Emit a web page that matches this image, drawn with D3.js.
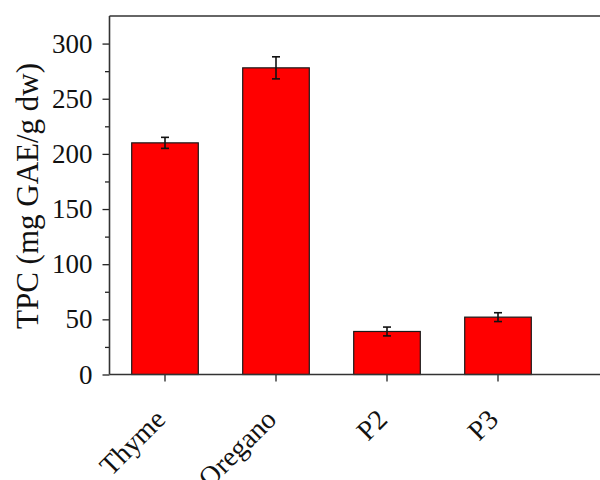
<!DOCTYPE html>
<html>
<head>
<meta charset="utf-8">
<script src="https://cdn.jsdelivr.net/npm/d3@7"></script>
<style>
  html, body { margin: 0; padding: 0; background: #ffffff; }
  svg { display: block; }
  text { font-family: "Liberation Serif", "Times New Roman", serif; fill: #111; }
</style>
</head>
<body>
<svg id="chart" width="600" height="480"></svg>
<script>
const categories = ["Thyme", "Oregano", "P2", "P3"];
const values = [210, 278, 39, 52];
const errors = [5, 10, 4, 4];
const yTicks = [0, 50, 100, 150, 200, 250, 300];
const yMinorTicks = [25, 75, 125, 175, 225, 275];
const yTitle = "TPC (mg GAE/g dw)";

const svg = d3.select("#chart");
const left = 109.5, bottom = 374.5, right = 600;

const y = d3.scaleLinear().domain([0, 325]).range([bottom, 16]);
const x = d3.scaleBand().domain(categories).range([left, left + 444])
  .paddingInner(0.4).paddingOuter(0.2);

// bars
svg.append("g").selectAll("rect").data(categories).join("rect")
  .attr("x", d => x(d))
  .attr("y", (d, i) => y(values[i]))
  .attr("width", x.bandwidth())
  .attr("height", (d, i) => y(0) - y(values[i]))
  .attr("fill", "#ff0000")
  .attr("stroke", "#1a1a1a")
  .attr("stroke-width", 1.2);

// error bars
const eb = svg.append("g").attr("stroke", "#111").attr("stroke-width", 1.6);
categories.forEach((c, i) => {
  const cx = x(c) + x.bandwidth() / 2;
  eb.append("line").attr("x1", cx).attr("x2", cx)
    .attr("y1", y(values[i] + errors[i])).attr("y2", y(values[i] - errors[i]));
  eb.append("line").attr("x1", cx - 4).attr("x2", cx + 4)
    .attr("y1", y(values[i] + errors[i])).attr("y2", y(values[i] + errors[i]));
  eb.append("line").attr("x1", cx - 4).attr("x2", cx + 4)
    .attr("y1", y(values[i] - errors[i])).attr("y2", y(values[i] - errors[i]));
});

// y axis major
const yAxis = svg.append("g").attr("transform", `translate(${left},0)`)
  .call(d3.axisLeft(y).tickValues(yTicks).tickSize(7).tickPadding(10).tickSizeOuter(0));
yAxis.select(".domain").remove();
yAxis.selectAll(".tick line").attr("stroke", "#222").attr("stroke-width", 1.3);
yAxis.selectAll(".tick text").attr("font-size", 27).attr("fill", "#111")
  .style("font-family", '"Liberation Serif", "Times New Roman", serif');

// y axis minor
const yMinor = svg.append("g").attr("transform", `translate(${left},0)`)
  .call(d3.axisLeft(y).tickValues(yMinorTicks).tickSize(4.5).tickFormat(""));
yMinor.select(".domain").remove();
yMinor.selectAll(".tick line").attr("stroke", "#222").attr("stroke-width", 1.3);

// x ticks
const xAxis = svg.append("g").attr("transform", `translate(0,${bottom})`)
  .call(d3.axisBottom(x).tickSize(7).tickFormat(""));
xAxis.select(".domain").remove();
xAxis.selectAll(".tick line").attr("stroke", "#222").attr("stroke-width", 1.3);

// x labels rotated
svg.append("g").selectAll("text").data(categories).join("text")
  .attr("transform", d => `translate(${x(d) + x.bandwidth() / 2 + 2},421) rotate(-45)`)
  .attr("text-anchor", "end")
  .attr("font-size", 28)
  .text(d => d);

// frame lines
const frame = svg.append("g").attr("stroke", "#333").attr("stroke-width", 1.6).attr("fill", "none");
frame.append("line").attr("x1", left).attr("x2", left).attr("y1", y(325)).attr("y2", bottom);
frame.append("line").attr("x1", left).attr("x2", right).attr("y1", bottom).attr("y2", bottom);
frame.append("line").attr("x1", left).attr("x2", right).attr("y1", y(325)).attr("y2", y(325));

// y title
svg.append("text")
  .attr("transform", "translate(38,196) rotate(-90)")
  .attr("text-anchor", "middle")
  .attr("font-size", 31)
  .text(yTitle);
</script>
</body>
</html>
